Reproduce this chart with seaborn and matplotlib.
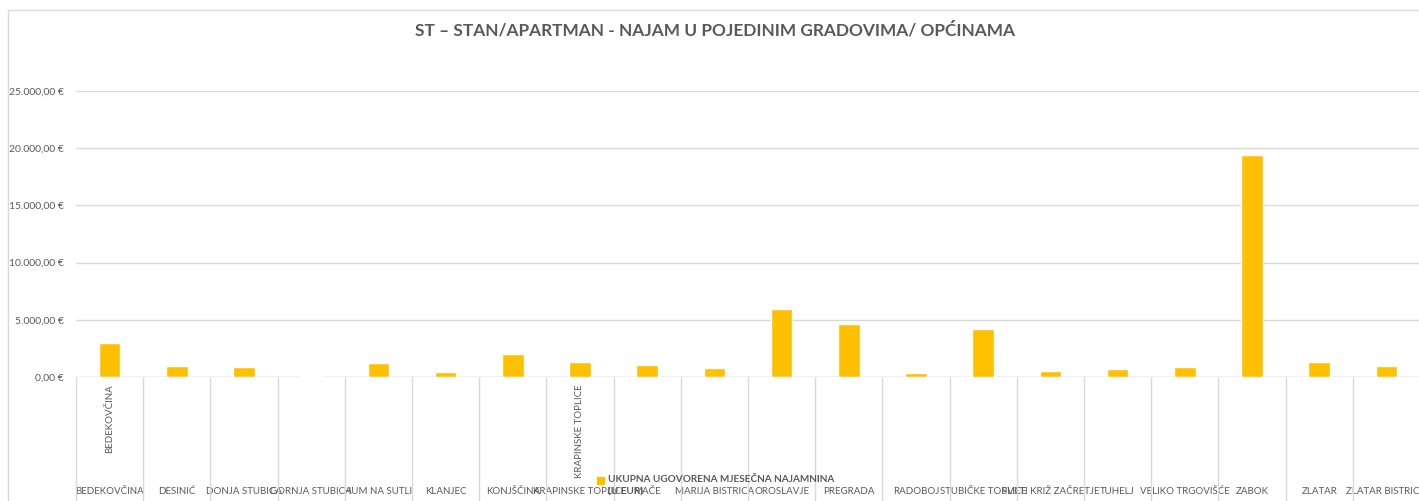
import matplotlib
matplotlib.use("Agg")
import matplotlib.pyplot as plt
import seaborn as sns
import pandas as pd
from matplotlib.patches import Rectangle
from matplotlib.ticker import FuncFormatter

# data
gradovi = ["BEDEKOVČINA", "DESINIĆ", "DONJA STUBICA", "GORNJA STUBICA", "HUM NA SUTLI",
           "KLANJEC", "KONJŠČINA", "KRAPINSKE TOPLICE", "MAČE", "MARIJA BISTRICA",
           "OROSLAVJE", "PREGRADA", "RADOBOJ", "STUBIČKE TOPLICE", "SVETI KRIŽ ZAČRETJE",
           "TUHELJ", "VELIKO TRGOVIŠĆE", "ZABOK", "ZLATAR", "ZLATAR BISTRICA"]
najamnina = [2960, 930, 870, 110, 1250, 430, 2030, 1300, 1050, 810,
             5950, 4630, 340, 4170, 520, 670, 870, 19380, 1300, 930]
# upper category level (only shown where the group starts)
grupe = {0: "BEDEKOVČINA", 7: "KRAPINSKE TOPLICE"}
y_ticks = [0, 5000, 10000, 15000, 20000, 25000]

title = "ST – STAN/APARTMAN - NAJAM U POJEDINIM GRADOVIMA/ OPĆINAMA"
legend_lines = ["UKUPNA UGOVORENA MJESEČNA NAJAMNINA", "(U EUR)"]

bar_color = "#FFC000"
grid_color = "#D9D9D9"
text_color = "#595959"

sns.set_theme(style="white")
plt.rcParams["font.family"] = ["Lato", "DejaVu Sans"]

df = pd.DataFrame({"grad": gradovi, "iznos": najamnina})

W, H = 1419, 501
fig = plt.figure(figsize=(W / 100, H / 100), dpi=100)

# axes placed in pixel terms of the reference
left, right, top, base = 76, 1420, 91, 377
ax = fig.add_axes([left / W, (H - base) / H, (right - left) / W, (base - top) / H])

sns.barplot(data=df, x="grad", y="iznos", order=gradovi, color=bar_color,
            width=0.32, saturation=1, ax=ax)

ax.set_xlim(-0.5, len(gradovi) - 0.5)
ax.set_ylim(0, 25000)
ax.set_yticks(y_ticks)
ax.yaxis.set_major_formatter(FuncFormatter(
    lambda v, p: f"{v:,.2f}".replace(",", "X").replace(".", ",").replace("X", ".") + " €"))
ax.grid(axis="y", color=grid_color, lw=1)
ax.set_axisbelow(True)
for s in ax.spines.values():
    s.set_visible(False)
ax.axhline(0, color=grid_color, lw=1, zorder=0.5)

ax.set_xlabel("")
ax.set_ylabel("")
ax.tick_params(axis="y", length=0, pad=9, labelsize=7.5, labelcolor=text_color)
ax.tick_params(axis="x", length=0, pad=79, labelsize=7, labelcolor=text_color)

# category separators running down to the bottom edge
axh = base - top
ax.vlines([i - 0.5 for i in range(len(gradovi) + 1)], 0, -(H - base) / axh,
          transform=ax.get_xaxis_transform(), color=grid_color, lw=1, clip_on=False)

for i, name in grupe.items():
    ax.text(i, -7 / axh, name, transform=ax.get_xaxis_transform(), rotation=90,
            ha="center", va="top", fontsize=7, color=text_color)

fig.text(715 / W, 1 - 30 / H, title, ha="center", va="center",
         fontsize=12.4, fontweight="bold", color=text_color)

# legend: small square + two-line bold label
fig.patches.append(Rectangle((597 / W, 1 - 484 / H), 7 / W, 7 / H, transform=fig.transFigure,
                             color=bar_color))
for k, line in enumerate(legend_lines):
    fig.text(608 / W, 1 - (480 + 12 * k) / H, line, ha="left", va="center",
             fontsize=7.2, fontweight="bold", color=text_color)

# outer chart border
fig.patches.append(Rectangle((8 / W, -0.1), 1.2, 1 - 10 / H + 0.1, transform=fig.transFigure,
                             fill=False, edgecolor=grid_color, lw=1))

fig.savefig("out.png", dpi=100)
